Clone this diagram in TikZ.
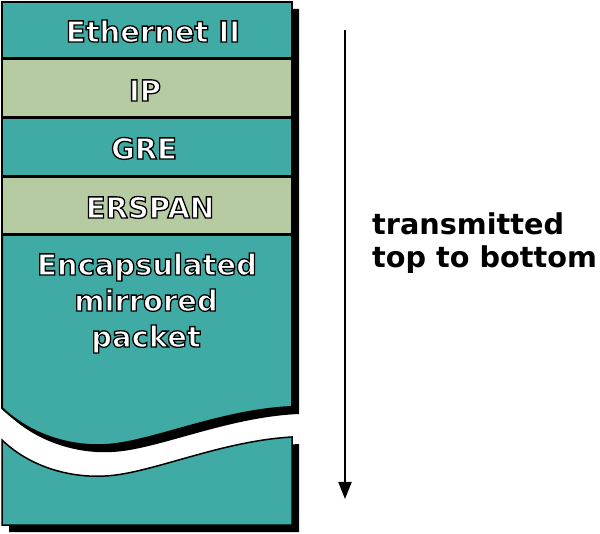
\documentclass[tikz,border=0pt]{standalone}
\usepackage{fontspec}
\setmainfont{DejaVu Sans}
\usetikzlibrary{arrows.meta}
\definecolor{tealc}{RGB}{64,170,165}
\definecolor{sagec}{RGB}{183,203,163}
\newcommand\strk[1]{\special{pdf:literal 0 0 0 RG 2 Tr 1.3 w}#1\special{pdf:literal 0 Tr}}
\tikzset{
  lbl/.style={font=\fontsize{29}{34}\selectfont\bfseries, inner sep=0pt, anchor=base, text=white},
  rlbl/.style={font=\fontsize{28.7}{34}\selectfont\bfseries, inner sep=0pt, anchor=base west, text=black},
  layer/.style={draw=black, line width=2pt},
  sep/.style={draw=black, line width=3pt},
  shade/.style={fill=black},
}
\begin{document}
\begin{tikzpicture}[x=1pt,y=-1pt]
\useasboundingbox (0,0) rectangle (600,534);
% shadows
\fill[shade, shift={(7,7)}] (2,2) -- (292,2) -- (292,407)
  .. controls (220,410) and (150,443) .. (105,445)
  .. controls (70,447) and (30,435) .. (2,408) -- cycle;
\fill[shade, shift={(7,7)}] (2,440) .. controls (30,467) and (70,478) .. (105,476)
  .. controls (150,474) and (220,441) .. (292,437) -- (292,525) -- (2,525) -- cycle;
% upper stack
\path[layer, fill=tealc] (2,235) -- (292,235) -- (292,407)
  .. controls (220,410) and (150,443) .. (105,445)
  .. controls (70,447) and (30,435) .. (2,408) -- cycle;
\path[layer, fill=tealc] (2,2) rectangle (292,59);
\path[layer, fill=sagec] (2,59) rectangle (292,118);
\path[layer, fill=tealc] (2,118) rectangle (292,177);
\path[layer, fill=sagec] (2,177) rectangle (292,235);
\draw[sep] (2,59) -- (292,59);
\draw[sep] (2,118) -- (292,118);
\draw[sep] (2,177) -- (292,177);
\draw[sep] (2,235) -- (292,235);
% lower part
\path[layer, line width=1.5pt, fill=tealc] (2,440) .. controls (30,467) and (70,478) .. (105,476)
  .. controls (150,474) and (220,441) .. (292,437) -- (292,525) -- (2,525) -- cycle;
% labels
\node[lbl] (eth) at (153,42) {\strk{Ethernet II}};
\node[lbl] (ip) at (145,101) {\strk{IP}};
\node[lbl] (gre) at (144,159) {\strk{GRE}};
\node[lbl] (erspan) at (150,218) {\strk{ERSPAN}};
\node[lbl] (enc1) at (147,275) {\strk{Encapsulated}};
\node[lbl] (enc2) at (146,311) {\strk{mirrored}};
\node[lbl] (enc3) at (146,347) {\strk{packet}};
% arrow
\coordinate (arrtop) at (345,30);
\coordinate (arrbot) at (345,499);
\draw[line width=2pt, -{Triangle[width=13pt,length=17pt]}] (arrtop) -- (arrbot);
\node[rlbl] (tx1) at (372,235) {transmitted};
\node[rlbl] (tx2) at (372,268) {top to bottom};
\end{tikzpicture}
\end{document}
